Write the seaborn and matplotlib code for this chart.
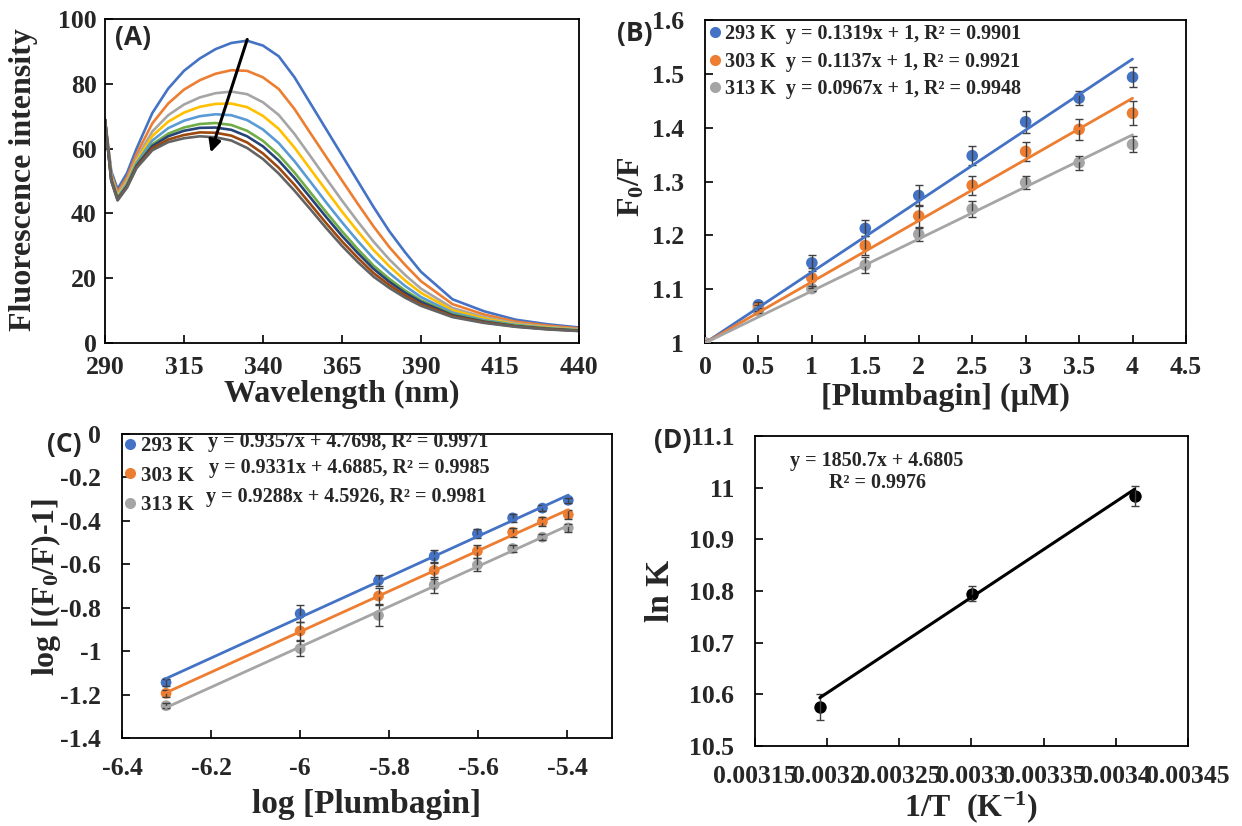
import numpy as np
import pandas as pd
import matplotlib
matplotlib.use('Agg')
import matplotlib.pyplot as plt
from matplotlib.lines import Line2D
from matplotlib.ticker import FuncFormatter
import seaborn as sns

sns.set_theme(style='white')
plt.rcParams['font.family'] = ['Liberation Serif', 'DejaVu Serif']
plt.rcParams['font.weight'] = 'bold'
plt.rcParams['axes.unicode_minus'] = False
plt.rcParams['mathtext.fontset'] = 'custom'
plt.rcParams['mathtext.rm'] = 'Liberation Serif:bold'
plt.rcParams['mathtext.it'] = 'Liberation Serif:bold'
plt.rcParams['mathtext.bf'] = 'Liberation Serif:bold'

# ---- (A) emission spectra, 0 to 4 uM plumbagin ----
wavelength = [290, 292, 294, 297, 300, 305, 310, 315, 320, 325, 330, 335, 340, 345, 350,
              355, 360, 365, 370, 375, 380, 385, 390, 400, 410, 420, 430, 440]
f_0 = [69, 53, 47.5, 52.5, 60, 71, 78.5, 84, 87.8, 90.7, 92.6, 93.3, 91.8, 88.5, 82,
       74, 66, 58, 50, 42, 34.5, 28, 22, 13.5, 9.8, 7.2, 5.8, 4.8]
f_05 = [69, 52.2, 46.5, 51.2, 58.3, 67.8, 73.9, 78.2, 81.1, 83.1, 84.2, 84.0, 82.0, 78.4, 72.2,
        64.8, 57.5, 50.2, 43.0, 36.0, 29.6, 24.1, 19.1, 12.0, 8.8, 6.6, 5.4, 4.5]
f_1 = [69, 51.5, 45.8, 50.3, 57, 65.3, 70.3, 73.6, 75.8, 77.1, 77.6, 76.8, 74.3, 70.4, 64.5,
       57.7, 50.8, 44, 37.5, 31.3, 25.8, 21, 16.8, 10.8, 8.0, 6.1, 5.0, 4.25]
f_15 = [69, 51.1, 45.3, 49.7, 56.3, 63.9, 68.3, 71.1, 72.9, 73.8, 73.9, 72.8, 70.1, 66.1, 60.3,
        53.7, 47.1, 40.6, 34.5, 28.7, 23.7, 19.3, 15.5, 10.1, 7.6, 5.8, 4.8, 4.1]
f_2 = [69, 50.8, 44.9, 49.2, 55.6, 62.5, 66.3, 68.6, 70.0, 70.6, 70.3, 68.8, 65.9, 61.7, 56.1,
       49.8, 43.4, 37.3, 31.5, 26.1, 21.6, 17.6, 14.2, 9.4, 7.1, 5.6, 4.6, 4.0]
f_25 = [69, 50.5, 44.6, 48.7, 55.0, 61.3, 64.6, 66.5, 67.6, 67.9, 67.3, 65.5, 62.4, 58.1, 52.6,
        46.5, 40.4, 34.5, 29.0, 23.9, 19.8, 16.2, 13.2, 8.9, 6.8, 5.4, 4.5, 3.9]
f_3 = [69, 50.3, 44.4, 48.5, 54.7, 60.8, 63.8, 65.5, 66.4, 66.5, 65.8, 63.8, 60.7, 56.3, 50.9,
       44.9, 38.9, 33.1, 27.8, 22.9, 18.9, 15.5, 12.7, 8.6, 6.6, 5.2, 4.4, 3.8]
f_35 = [69, 50.2, 44.2, 48.2, 54.3, 60.1, 62.8, 64.2, 65.0, 64.9, 64.0, 61.9, 58.5, 54.1, 48.8,
        42.9, 37.0, 31.4, 26.3, 21.6, 17.9, 14.7, 12.0, 8.3, 6.4, 5.1, 4.3, 3.75]
f_4 = [69, 50, 44, 48, 54, 59.5, 62, 63.2, 63.8, 63.5, 62.5, 60.2, 56.8, 52.3, 47,
       41.3, 35.5, 30, 25, 20.5, 17, 14, 11.5, 8, 6.2, 5, 4.2, 3.7]
spectra = [f_0, f_05, f_1, f_15, f_2, f_25, f_3, f_35, f_4]
spec_labels = ['0', '0.5', '1', '1.5', '2', '2.5', '3', '3.5', '4']
spec_colors = ['#4472C4', '#ED7D31', '#A5A5A5', '#FFC000', '#5B9BD5',
               '#70AD47', '#264478', '#9E480E', '#636363']

# ---- (B) Stern-Volmer ----
temps = ['293 K', '303 K', '313 K']
temp_colors = ['#4472C4', '#ED7D31', '#A5A5A5']
conc = [0, 0.5, 1, 1.5, 2, 2.5, 3, 3.5, 4]
f0f_293 = [1.0, 1.071, 1.149, 1.213, 1.274, 1.348, 1.411, 1.455, 1.494]
f0f_303 = [1.0, 1.065, 1.121, 1.181, 1.236, 1.293, 1.356, 1.397, 1.427]
f0f_313 = [1.0, 1.060, 1.101, 1.145, 1.202, 1.249, 1.298, 1.335, 1.369]
f0f_err_293 = [0.004, 0.006, 0.015, 0.015, 0.02, 0.018, 0.02, 0.013, 0.018]
f0f_err_303 = [0.003, 0.005, 0.018, 0.018, 0.02, 0.018, 0.018, 0.02, 0.022]
f0f_err_313 = [0.003, 0.005, 0.005, 0.015, 0.012, 0.015, 0.012, 0.013, 0.015]
slopes_B = [0.1319, 0.1137, 0.0967]
r2_B = [0.9901, 0.9921, 0.9948]

# ---- (C) double log ----
log_conc = [-6.301, -6.0, -5.824, -5.699, -5.602, -5.523, -5.456, -5.398]
logq_293 = [-1.144, -0.827, -0.674, -0.562, -0.459, -0.386, -0.341, -0.305]
logq_303 = [-1.194, -0.907, -0.746, -0.628, -0.539, -0.452, -0.403, -0.371]
logq_313 = [-1.251, -0.988, -0.835, -0.695, -0.603, -0.527, -0.475, -0.432]
logq_err_293 = [0.015, 0.04, 0.025, 0.03, 0.02, 0.02, 0.015, 0.012]
logq_err_303 = [0.015, 0.04, 0.035, 0.04, 0.03, 0.02, 0.02, 0.02]
logq_err_313 = [0.012, 0.035, 0.05, 0.035, 0.03, 0.015, 0.015, 0.02]
slopes_C = [0.9357, 0.9331, 0.9288]
icpt_C = [4.7698, 4.6885, 4.5926]
r2_C = [0.9971, 0.9985, 0.9981]

# ---- (D) van't Hoff ----
inv_T = [0.0031949, 0.0033003, 0.0034130]
lnK = [10.575, 10.795, 10.984]
lnK_err = [0.025, 0.015, 0.02]
slope_D, icpt_D, r2_D = 1850.7, 4.6805, 0.9976

fmt_g = FuncFormatter(lambda v, p: f'{v:g}')


def style_axes(ax, xpad, ypad, size=18.5):
    for s in ax.spines.values():
        s.set_visible(True)
        s.set_color('black')
        s.set_linewidth(1.3)
    ax.tick_params(direction='in', length=6, width=1.2, color='black',
                   labelsize=size, bottom=True, left=True, top=False, right=False)
    ax.tick_params(axis='x', pad=xpad)
    ax.tick_params(axis='y', pad=ypad)
    ax.xaxis.set_major_formatter(fmt_g)
    ax.yaxis.set_major_formatter(fmt_g)
    for t in ax.xaxis.get_major_ticks() + ax.yaxis.get_major_ticks():
        t.label1.set_fontweight('bold')
    ax.grid(False)


fig = plt.figure(figsize=(12.42, 8.26), dpi=100)
axA = fig.add_axes([0.0845, 0.5847, 0.3816, 0.3923])
axB = fig.add_axes([0.5676, 0.5847, 0.3873, 0.3910])
axC = fig.add_axes([0.0982, 0.1065, 0.3945, 0.3680])
axD = fig.add_axes([0.6079, 0.0969, 0.3486, 0.3753])

# (A)
rows = []
for lab, spec in zip(spec_labels, spectra):
    for w, v in zip(wavelength, spec):
        rows.append({'wavelength': w, 'intensity': v, 'conc': lab})
df_A = pd.DataFrame(rows)
sns.lineplot(data=df_A, x='wavelength', y='intensity', hue='conc', palette=spec_colors,
             estimator=None, sort=False, linewidth=1.9, legend=False, ax=axA)
axA.annotate('', xy=(323.2, 58.0), xytext=(335.3, 94.5),
             arrowprops=dict(arrowstyle='-|>', color='black', lw=2.2, mutation_scale=18))
axA.set_xlim(290, 440)
axA.set_ylim(0, 100)
axA.set_xticks([290, 315, 340, 365, 390, 415, 440])
axA.set_yticks([0, 20, 40, 60, 80, 100])
style_axes(axA, 9, 6)
axA.set_xlabel('Wavelength (nm)', fontsize=23, fontweight='bold', va='center')
axA.set_ylabel('Fluorescence intensity', fontsize=23, fontweight='bold', va='center')
axA.xaxis.set_label_coords(0.5, -0.160)
axA.yaxis.set_label_coords(-0.171, 0.503)

# (B)
df_B = pd.DataFrame({'conc': conc * 3,
                     'ratio': f0f_293 + f0f_303 + f0f_313,
                     'temp': [t for t in temps for _ in conc]})
sns.scatterplot(data=df_B, x='conc', y='ratio', hue='temp', palette=temp_colors,
                s=70, linewidth=0, legend=False, ax=axB, zorder=3)
for vals, errs in zip([f0f_293, f0f_303, f0f_313], [f0f_err_293, f0f_err_303, f0f_err_313]):
    axB.errorbar(conc, vals, yerr=errs, fmt='none', ecolor='#404040', elinewidth=1.0,
                 capsize=3, capthick=1.0, zorder=4)
xfit = np.array([conc[0], conc[-1]])
for s, c in zip(slopes_B, temp_colors):
    axB.plot(xfit, s * xfit + 1, color=c, lw=2.0, zorder=5)
axB.set_xlim(0, 4.5)
axB.set_ylim(1, 1.6)
axB.set_xticks([0, 0.5, 1, 1.5, 2, 2.5, 3, 3.5, 4, 4.5])
axB.set_yticks([1, 1.1, 1.2, 1.3, 1.4, 1.5, 1.6])
style_axes(axB, 9, 15)
handles = [Line2D([], [], marker='o', ls='', color=c, ms=8, mec='none') for c in temp_colors]
labels_B = [f'{t}  y = {s:.4f}x + 1, R² = {r:.4f}' for t, s, r in zip(temps, slopes_B, r2_B)]
axB.legend(handles, labels_B, loc='upper left', bbox_to_anchor=(0, 1), frameon=False,
           borderaxespad=0.2, borderpad=0.0, handlelength=0.55, handletextpad=0.25,
           labelspacing=0.38, prop={'size': 14.5, 'weight': 'bold'})
axB.set_xlabel('[Plumbagin] (µM)', fontsize=23, fontweight='bold', va='center')
axB.set_ylabel(r'F$_0$/F', fontsize=23, fontweight='bold', va='center')
axB.xaxis.set_label_coords(0.5, -0.167)
axB.yaxis.set_label_coords(-0.152, 0.483)

# (C)
df_C = pd.DataFrame({'logc': log_conc * 3,
                     'logq': logq_293 + logq_303 + logq_313,
                     'temp': [t for t in temps for _ in log_conc]})
sns.scatterplot(data=df_C, x='logc', y='logq', hue='temp', palette=temp_colors,
                s=60, linewidth=0, legend=False, ax=axC, zorder=3)
for vals, errs in zip([logq_293, logq_303, logq_313], [logq_err_293, logq_err_303, logq_err_313]):
    axC.errorbar(log_conc, vals, yerr=errs, fmt='none', ecolor='#404040', elinewidth=1.0,
                 capsize=3, capthick=1.0, zorder=4)
xfit = np.array([log_conc[0], log_conc[-1]])
for s, b, c in zip(slopes_C, icpt_C, temp_colors):
    axC.plot(xfit, s * xfit + b, color=c, lw=2.0, zorder=5)
axC.set_xlim(-6.4, -5.3)
axC.set_ylim(-1.4, 0)
axC.set_xticks([-6.4, -6.2, -6.0, -5.8, -5.6, -5.4])
axC.set_yticks([-1.4, -1.2, -1.0, -0.8, -0.6, -0.4, -0.2, 0])
style_axes(axC, 14, 15)
axC.legend(handles, temps, loc='upper left', bbox_to_anchor=(0, 1), frameon=False,
           borderaxespad=0.1, borderpad=0.0, handlelength=0.55, handletextpad=0.25,
           labelspacing=0.45, prop={'size': 15, 'weight': 'bold'})
eq_pos_C = [(0.1755, 0.975), (0.178, 0.888), (0.171, 0.793)]
for (px, py), s, b, r in zip(eq_pos_C, slopes_C, icpt_C, r2_C):
    axC.text(px, py, f'y = {s:.4f}x + {b:.4f}, R² = {r:.4f}', transform=axC.transAxes,
             fontsize=14.5, fontweight='bold', ha='left', va='center')
axC.set_xlabel('log [Plumbagin]', fontsize=24, fontweight='bold', va='center')
axC.set_ylabel(r'log [(F$_0$/F)-1]', fontsize=23, fontweight='bold', va='center')
axC.xaxis.set_label_coords(0.5, -0.22)
axC.yaxis.set_label_coords(-0.155, 0.497)

# (D)
sns.scatterplot(x=inv_T, y=lnK, color='black', s=80, linewidth=0, ax=axD, zorder=3)
axD.errorbar(inv_T, lnK, yerr=lnK_err, fmt='none', ecolor='#404040', elinewidth=1.0,
             capsize=3, capthick=1.0, zorder=4)
xfit = np.array([min(inv_T), max(inv_T)])
axD.plot(xfit, slope_D * xfit + icpt_D, color='black', lw=2.2, zorder=5)
axD.set_xlim(0.00315, 0.00345)
axD.set_ylim(10.5, 11.1)
axD.set_xticks([0.00315, 0.0032, 0.00325, 0.0033, 0.00335, 0.0034, 0.00345])
axD.set_yticks([10.5, 10.6, 10.7, 10.8, 10.9, 11.0, 11.1])
style_axes(axD, 14, 15)
axD.text(0.282, 0.884, f'y = {slope_D}x + {icpt_D}\nR² = {r2_D}', transform=axD.transAxes,
         fontsize=14.5, fontweight='bold', ha='center', va='center', linespacing=1.1)
axD.set_xlabel(r'1/T  (K$^{-1}$)', fontsize=23, fontweight='bold', va='center')
axD.set_ylabel('ln K', fontsize=24, fontweight='bold', va='center')
axD.xaxis.set_label_coords(0.5, -0.197)
axD.yaxis.set_label_coords(-0.219, 0.5)

# panel letters
for lab, (px, py) in zip(['(A)', '(B)', '(C)', '(D)'],
                         [(0.1071, 0.954), (0.5113, 0.960), (0.0515, 0.4613), (0.5419, 0.4673)]):
    fig.text(px, py, lab, fontsize=19, fontweight='bold', family=['Open Sans', 'DejaVu Sans'],
             ha='center', va='center')

fig.savefig('out.png', dpi=100, facecolor='white')
